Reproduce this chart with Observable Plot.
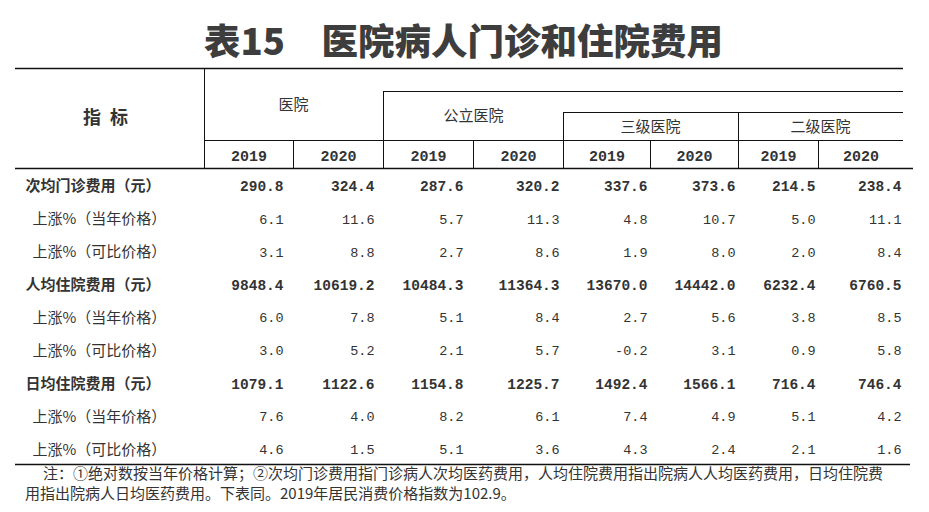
<!DOCTYPE html>
<html><head><meta charset="utf-8">
<script src="https://cdn.jsdelivr.net/npm/d3@7"></script>
<script src="https://cdn.jsdelivr.net/npm/@observablehq/plot@0.6"></script>
<style>
body{margin:0;background:#fff;width:929px;height:512px;overflow:hidden;font-family:"Noto Sans CJK SC",sans-serif;}
#title{height:36px;padding-top:22px;padding-bottom:6px;line-height:1;font-size:36.5px;font-weight:900;color:#3d3d3d;text-align:center;padding-right:2px;}
#chart svg{display:block;}
#note{margin-top:-3px;font-size:15px;line-height:20px;color:#333;padding-left:25px;width:890px;}
#note .l1{text-indent:18px;white-space:nowrap;}
#note .l2{white-space:nowrap;}
</style></head>
<body>
<div id="title">表15　医院病人门诊和住院费用</div>
<div id="chart"></div>
<div id="note"><div class="l1">注：①绝对数按当年价格计算；②次均门诊费用指门诊病人次均医药费用，人均住院费用指出院病人人均医药费用，日均住院费</div><div class="l2">用指出院病人日均医药费用。下表同。2019年居民消费价格指数为102.9。</div></div>
<script>
// ---- data ----
const indicators = ["次均门诊费用（元）","上涨%（当年价格）","上涨%（可比价格）",
  "人均住院费用（元）","上涨%（当年价格）","上涨%（可比价格）",
  "日均住院费用（元）","上涨%（当年价格）","上涨%（可比价格）"];
const groups = ["医院","公立医院","三级医院","二级医院"];
const years = ["2019","2020"];
const hospital2019 = [290.8, 6.1, 3.1, 9848.4, 6.0, 3.0, 1079.1, 7.6, 4.6];
const hospital2020 = [324.4, 11.6, 8.8, 10619.2, 7.8, 5.2, 1122.6, 4.0, 1.5];
const public2019 = [287.6, 5.7, 2.7, 10484.3, 5.1, 2.1, 1154.8, 8.2, 5.1];
const public2020 = [320.2, 11.3, 8.6, 11364.3, 8.4, 5.7, 1225.7, 6.1, 3.6];
const tertiary2019 = [337.6, 4.8, 1.9, 13670.0, 2.7, -0.2, 1492.4, 7.4, 4.3];
const tertiary2020 = [373.6, 10.7, 8.0, 14442.0, 5.6, 3.1, 1566.1, 4.9, 2.4];
const secondary2019 = [214.5, 5.0, 2.0, 6232.4, 3.8, 0.9, 716.4, 5.1, 2.1];
const secondary2020 = [238.4, 11.1, 8.4, 6760.5, 8.5, 5.8, 746.4, 4.2, 1.6];
const columns = [hospital2019, hospital2020, public2019, public2020, tertiary2019, tertiary2020, secondary2019, secondary2020];

// ---- layout (pixel positions of the table grid) ----
const L = {
  colEdges: [204, 293, 383, 473, 563, 650, 738, 818, 903],
  valueRight: [283, 374, 463, 559, 647, 735, 815, 901],
  rowY0: 122, rowStep: 32.9,
  groupPos: [{x:293,y:41},{x:473,y:52},{x:650,y:63},{x:820,y:63}],
  yearY: 92
};
const isHead = s => s.endsWith("（元）");

const cells = [];
columns.forEach((col, c) => col.forEach((v, r) => cells.push({
  x: L.valueRight[c], y: L.rowY0 + r * L.rowStep, text: v.toFixed(1), head: isHead(indicators[r])
})));
const rowsT = indicators.map((s, r) => ({x: isHead(s) ? 25 : 32, y: L.rowY0 + r * L.rowStep, text: s, head: isHead(s)}));
const yearsT = L.colEdges.slice(0, 8).map((e, i) => ({x: (e + L.colEdges[i + 1]) / 2, y: L.yearY, text: years[i % 2]}));
const groupsT = groups.map((g, i) => ({...L.groupPos[i], text: g}));

const thick = [{y:4,x1:15,x2:903},{y:104,x1:15,x2:913},{y:400,x1:15,x2:910}];
const thin = [{y:27,x1:383,x2:903},{y:48,x1:563,x2:903},{y:76,x1:204,x2:903}];
const vlines = [{x:204,y1:4,y2:104},{x:383,y1:27,y2:104},{x:563,y1:48,y2:104},{x:738,y1:48,y2:104},
  {x:293,y1:76,y2:104},{x:473,y1:76,y2:104},{x:650,y1:76,y2:104},{x:818,y1:76,y2:104}];

const cjk = '"Noto Sans CJK SC", sans-serif';
const mono = '"Liberation Mono", "DejaVu Sans Mono", monospace';
const ink = "#333";

const plot = Plot.plot({
  width: 929, height: 402, margin: 0,
  x: {domain: [0, 929], range: [0, 929], axis: null},
  y: {domain: [0, 402], range: [0, 402], axis: null},
  style: {background: "#fff"},
  marks: [
    Plot.ruleY(thick, {y: "y", x1: "x1", x2: "x2", stroke: "#111", strokeWidth: 1.6}),
    Plot.ruleY(thin, {y: "y", x1: "x1", x2: "x2", stroke: "#111", strokeWidth: 1}),
    Plot.ruleX(vlines, {x: "x", y1: "y1", y2: "y2", stroke: "#111", strokeWidth: 1}),
    Plot.text([{x: 105, y: 54, text: "指\u2002标"}], {x: "x", y: "y", text: "text", fontSize: 18, fontWeight: "bold", fontFamily: cjk, fill: ink}),
    Plot.text(groupsT, {x: "x", y: "y", text: "text", fontSize: 15, fontFamily: cjk, fill: ink}),
    Plot.text(yearsT, {x: "x", y: "y", text: "text", fontSize: 15, fontWeight: "bold", fontFamily: mono, fill: ink}),
    Plot.text(rowsT.filter(d => d.head), {x: "x", y: "y", text: "text", textAnchor: "start", fontSize: 15, fontWeight: "bold", fontFamily: cjk, fill: ink}),
    Plot.text(rowsT.filter(d => !d.head), {x: "x", y: "y", text: "text", textAnchor: "start", fontSize: 15, fontFamily: cjk, fill: ink}),
    Plot.text(cells.filter(d => d.head), {x: "x", y: "y", text: "text", textAnchor: "end", fontSize: 14.5, fontWeight: "bold", fontFamily: mono, fill: ink}),
    Plot.text(cells.filter(d => !d.head), {x: "x", y: "y", text: "text", textAnchor: "end", fontSize: 13.5, fontFamily: mono, fill: ink})
  ]
});
document.getElementById("chart").appendChild(plot);
</script>
</body></html>
